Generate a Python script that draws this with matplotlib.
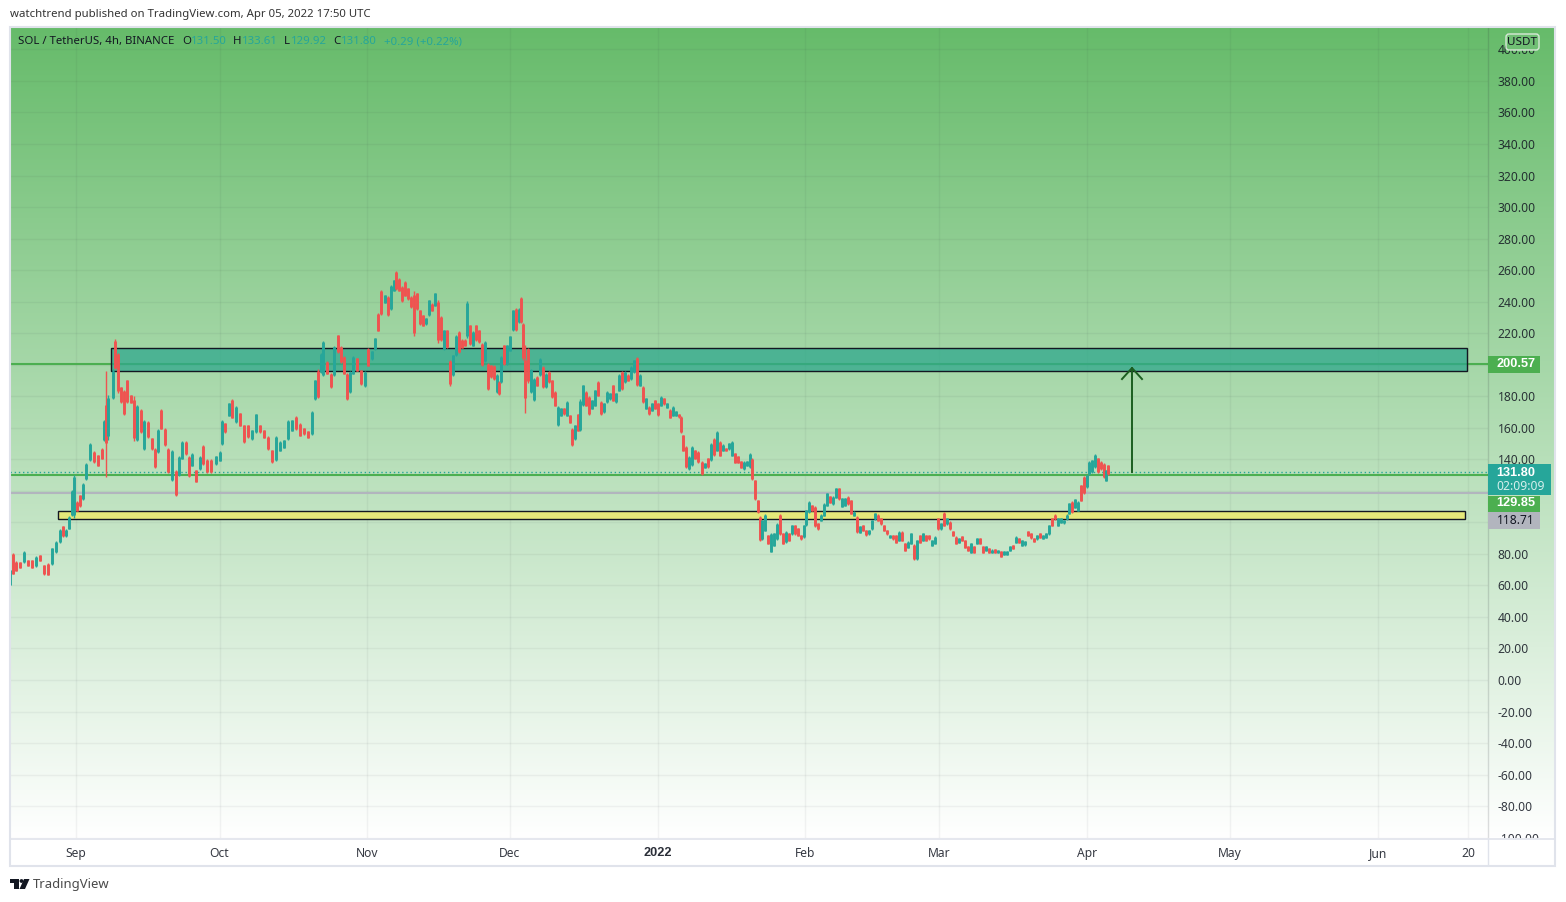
import numpy as np
import matplotlib
matplotlib.use("Agg")
import matplotlib.pyplot as plt
from matplotlib.patches import Rectangle, Polygon, Circle, FancyBboxPatch

plt.rcParams['font.family'] = ['Noto Sans', 'DejaVu Sans']

W, H = 1566, 902
# time axis unit: one step = 1/4.77 of a day, counted from the left chart edge
month_t = [66, 209.5, 357, 500, 648, 795, 929, 1077, 1220, 1368, 1458]
month_labels = ['Sep', 'Oct', 'Nov', 'Dec', '2022', 'Feb', 'Mar', 'Apr', 'May', 'Jun', '20']
price_ticks = list(range(-100, 401, 20))
hidden_tick_labels = [100, 120, 200]

bar_t = [
    0, 3, 6, 10, 14, 18, 22, 26, 30, 34,
    38, 42, 46, 50, 53, 56, 59, 62, 64, 67,
    70, 73, 76, 80, 84, 88, 92, 94, 96, 98,
    103, 105, 108, 111, 114, 117, 121, 124, 127, 131,
    134, 138, 142, 145, 148, 151, 155, 158, 162, 166,
    169, 172, 176, 179, 182, 186, 190, 193, 197, 201,
    206, 210, 212, 215, 219, 222, 226, 230, 234, 238,
    242, 246, 250, 254, 258, 262, 266, 270, 274, 278,
    282, 286, 290, 294, 298, 302, 305, 308, 311, 313,
    317, 321, 324, 328, 331, 334, 337, 340, 343, 347,
    351, 355, 358, 362, 365, 368, 371, 375, 378, 381,
    384, 386, 389, 392, 395, 398, 401, 404, 407, 410,
    413, 416, 419, 422, 425, 428, 431, 434, 437, 440,
    443, 446, 449, 452, 455, 457, 460, 463, 466, 469,
    472, 475, 478, 481, 484, 487, 489, 491, 494, 497,
    500, 503, 506, 509, 511, 513, 515, 518, 521, 524,
    527, 530, 533, 536, 539, 542, 545, 548, 551, 554,
    557, 560, 562, 565, 568, 570, 573, 576, 579, 582,
    585, 588, 591, 594, 597, 600, 603, 606, 609, 612,
    615, 618, 621, 624, 627, 630, 633, 636, 639, 642,
    645, 648, 651, 654, 657, 660, 663, 666, 669, 671,
    673, 676, 679, 682, 685, 688, 692, 695, 698, 701,
    704, 707, 710, 713, 716, 719, 722, 725, 728, 731,
    734, 737, 740, 742, 745, 748, 750, 752, 755, 758,
    761, 764, 767, 770, 773, 776, 779, 782, 785, 788,
    791, 794, 796, 799, 802, 805, 808, 811, 814, 817,
    820, 823, 826, 829, 832, 835, 838, 841, 844, 847,
    850, 853, 856, 859, 862, 865, 868, 871, 874, 877,
    880, 883, 886, 889, 892, 895, 898, 901, 904, 907,
    910, 913, 916, 919, 922, 925, 928, 931, 934, 937,
    940, 943, 946, 949, 952, 955, 958, 961, 964, 967,
    970, 973, 976, 979, 982, 985, 988, 991, 994, 997,
    1000, 1003, 1006, 1009, 1012, 1015, 1018, 1021, 1024, 1027,
    1030, 1033, 1036, 1039, 1042, 1045, 1048, 1051, 1054, 1057,
    1059, 1062, 1065, 1068, 1071, 1074, 1077, 1079, 1082, 1085,
    1088, 1091, 1094, 1096, 1098,
]
highs = [
    70, 80.7, 75.4, 75, 81.7, 76.4, 76.4, 78.5, 79.6, 73,
    74, 84, 88, 95.5, 98, 95.5, 104, 120.8, 130, 113.4,
    117.6, 125, 137.7, 150.4, 145, 143, 147, 165, 196, 181,
    197, 216, 207.5, 186, 184, 190.6, 181, 180, 174.7, 171.6,
    165, 164, 153.6, 147, 159, 171.6, 160, 147, 146, 133.5,
    142, 151.5, 151.5, 142, 144, 133.5, 142, 149, 140, 140,
    142, 145, 165, 163, 175.8, 178, 173.7, 169.5, 162, 162,
    158.9, 169, 162, 158.9, 154.7, 146, 154.7, 151.5, 152.5, 165,
    165, 167.3, 163, 160, 158, 170.5, 190.6, 197, 207.5, 215.3,
    202.2, 194.8, 211.7, 219, 211.7, 205.4, 194.8, 195.9, 205.4, 204.3,
    196.9, 195.9, 210.7, 208.6, 217, 232.9, 247.7, 244.5, 243.4, 250.8,
    254, 259.3, 255, 249.8, 253, 248.7, 243.4, 246.6, 245.6, 235,
    231.8, 229.7, 241.3, 239, 245.6, 241.3, 230.8, 222.3, 222.3, 203.3,
    206.4, 219, 221.2, 216, 216, 240.3, 225.5, 221.2, 225.5, 222.3,
    213.8, 215, 201, 200, 199.5, 193.8, 189.5, 205.4, 212.8, 212.8,
    218.5, 235, 236, 236, 243, 226.5, 212.8, 210.7, 197, 191.7,
    192.7, 204.3, 199, 194.8, 195.9, 190.6, 183.2, 173.7, 172.6, 172.6,
    176.8, 168.4, 160, 162, 169, 178, 187.4, 183.2, 180, 177.9,
    184.2, 189.5, 176.8, 175.8, 183.2, 182, 187.4, 182, 193.8, 195.9,
    195.9, 193.8, 199, 203.3, 205, 193.8, 186.4, 179, 173.7, 175.8,
    177.9, 175.8, 180, 179, 175.8, 171.6, 173.7, 170.5, 169, 167.3,
    155.7, 148.3, 142, 148.3, 146, 145, 138.8, 137.7, 140.9, 150.4,
    153.6, 157.8, 151.5, 149.4, 147.3, 150.4, 151.5, 144, 142, 138.8,
    138.8, 138.8, 144, 140.9, 127.1, 114.5, 103.9, 101.8, 105, 92.3,
    93.3, 93.3, 99.7, 105, 93.3, 94.4, 93.3, 98.6, 98.6, 96.5,
    92.3, 98.6, 108.1, 113.4, 111.3, 110.2, 99.7, 105, 112.3, 118.7,
    116.6, 116.6, 121.9, 121.9, 115.5, 115.5, 116.6, 114.5, 107, 103.9,
    97.6, 98.6, 95.4, 95.4, 101.8, 106, 105, 102.8, 98.6, 95.4,
    92.3, 92.3, 92.3, 94.4, 94.4, 87, 88, 93.3, 86, 89.1,
    92.3, 93.3, 92.3, 92.3, 89.1, 91.2, 102.8, 99.7, 106.4, 102.8,
    100.7, 94.4, 91.2, 90.2, 91.2, 89.1, 84.9, 87, 84.9, 90.2,
    90.2, 84.9, 84.9, 83.8, 82.8, 83.2, 82.3, 81.7, 81.7, 81.7,
    85.3, 85.9, 91.2, 90.2, 89.1, 88, 94.4, 93.3, 90.2, 92.3,
    93.3, 92.3, 93.3, 98.6, 102.8, 105, 102.8, 102.8, 101.8, 105,
    112.3, 113.4, 114.9, 113.4, 124, 129.3, 130.3, 138.8, 139.8, 143.4,
    140.9, 138.8, 137.7, 133.5, 136.7,
]
lows = [
    60, 67, 69, 71, 74.3, 72.2, 71, 72, 75.4, 66.9,
    66.3, 73, 80.7, 87, 91, 91, 95.5, 104, 103, 107,
    110, 114.5, 127, 138.8, 137.7, 135.6, 140, 151.5, 129, 152.5,
    178, 197, 182, 175.8, 168, 175.8, 175.8, 151.5, 151.5, 156.8,
    146, 153.6, 146, 134.6, 144, 159, 148.3, 131.4, 126, 116.6,
    129.3, 140, 143, 129, 135.6, 125.5, 133.5, 136.7, 131.4, 131.4,
    136.7, 138.8, 149, 156.8, 167.3, 166, 163, 161, 150.4, 153.6,
    152.5, 156.8, 156.8, 153.6, 146, 137.7, 138.8, 145, 147, 152.5,
    157.8, 158.9, 154.7, 155.7, 153.6, 155.7, 177.9, 179, 194.8, 192.7,
    193.8, 185.3, 192.7, 207.5, 201, 193.8, 177.5, 182, 193.8, 195.9,
    187.4, 186, 199, 203.3, 209.6, 221.2, 231.8, 239.2, 230.8, 235,
    246.6, 247.7, 246.6, 240, 243.4, 241.3, 236, 218, 235, 225.5,
    224.4, 225.5, 230.8, 234, 237, 214, 215, 209.6, 210.7, 186.8,
    192.7, 205.4, 207.5, 210.7, 211.7, 217, 212.8, 211.7, 215, 213.8,
    199, 202, 183.8, 191.7, 190.6, 182, 181, 188.5, 200, 200,
    208.6, 221.2, 221.2, 226.5, 226.5, 203.3, 169.5, 188.5, 182, 176.8,
    186.4, 192.7, 185.3, 185.3, 188.5, 179, 173.7, 161.4, 167.3, 168.4,
    167.3, 163, 148.3, 152.5, 157.8, 157.8, 173.7, 173.7, 168.4, 171.6,
    173.7, 180, 168.4, 169.5, 175.8, 177.9, 176.8, 175.8, 183.2, 184.2,
    188.5, 189.5, 190.6, 194.8, 186.4, 186.4, 175.8, 171.6, 168.4, 170.5,
    171.6, 167.7, 173.7, 174.7, 172.6, 166.3, 167.3, 167.3, 166.5, 156.8,
    145, 134.6, 133.5, 135.6, 139.9, 137.7, 130.3, 134.6, 134.6, 138.8,
    142, 145, 142, 145, 145, 146.2, 142, 137.7, 137.7, 134.5,
    133.5, 135.6, 134.5, 127.1, 114.5, 106, 88, 89, 94.4, 86,
    81, 84.9, 89, 92.3, 86, 87, 88, 92.3, 92.3, 91.2,
    89.1, 90.2, 97.6, 106, 107, 97.1, 95.4, 100.7, 103.9, 110.2,
    112.3, 111.3, 115.5, 114.5, 109.8, 110.2, 111.3, 105, 103.9, 93.3,
    93.3, 94.4, 91.6, 92.3, 95.4, 101.8, 100.7, 98.6, 94.4, 92.3,
    90.2, 89.1, 86.6, 88, 88, 81.7, 83.8, 86, 76.4, 76.4,
    87, 88, 88, 89.1, 84.9, 86, 95.4, 95.4, 97.6, 98.6,
    95.4, 91.2, 86, 87, 88, 83.8, 81.7, 80.6, 80.6, 86,
    86, 80.6, 81.7, 80.6, 80.6, 80.6, 80.6, 78.1, 79, 79,
    81.7, 82.8, 86.6, 87, 84.9, 85.3, 91.2, 89.7, 87.4, 89.1,
    90.2, 89.5, 90.2, 92.3, 97.6, 101.8, 97.6, 99.7, 99.2, 101.8,
    105, 106, 109.2, 107, 113.4, 118.3, 121.9, 130.3, 131.4, 134.5,
    131.4, 133.5, 128.2, 126, 130.3,
]
directions = (
    "trrrtrrtrr" "rtttrttttr" "rtttrrrtrt" "trrrrrrrtr" "trrrtrrrtr"
    "ttrrtrtrrr" "tttrtrtrrr" "ttrrrrtttt" "trrrrttrtt" "rrtrrrrttr"
    "rtrttrrtrt" "trrrrrrrrr" "rttrtrrtrr" "ttrrrtrtrr" "rtrrrtrtrt"
    "ttrtrrrrtt" "rtrtrrrttr" "trrtrttrrt" "trrtttrttr" "trttrtrtrt"
    "rrtrtrttrr" "rrttrrrtrt" "rtrtrttrrr" "tttrrrrttr" "tttrrtrtrr"
    "rtttrrrttt" "rttrttrrtr" "trrtttrrrr" "trrtrrttrt" "rtrrttrtrt"
    "rrrtrrrtrt" "rrtrtrtrtt" "trtrttrrrt" "rtttrrtttt" "trttrrtttt"
    "rrrtr"
)

last_close = 131.80
line_prices = [200.57, 129.85, 118.71]
zone_top, zone_bottom = 210.6, 195.7
band_top, band_bottom = 107.5, 102.4
arrow_from, arrow_to = 131.8, 197.9

TEAL, RED, GREEN, GRAY = '#26a69a', '#ef5350', '#4caf50', '#b2b5be'
INK = '#131722'
BOLD = ['Liberation Sans', 'DejaVu Sans']

fig = plt.figure(figsize=(W / 100, H / 100), dpi=100, facecolor='white')

def box(l, t, r, b):
    return [l / W, 1 - b / H, (r - l) / W, (b - t) / H]

# gradient pane, behind the chart and the price scale
ax_bg = fig.add_axes(box(10, 27, 1555, 838), zorder=0)
top_c = np.array([102, 187, 106]) / 255
bot_c = np.array([255, 255, 255]) / 255
frac = np.linspace(0, 1, 811)[:, None, None]
ax_bg.imshow(top_c[None, None, :] * (1 - frac) + bot_c[None, None, :] * frac, aspect='auto')
ax_bg.axis('off')

ax = fig.add_axes(box(10, 27, 1488, 838), zorder=1)
ax.patch.set_alpha(0)
ax.set_xlim(0, 1478)
ax.set_ylim(-100.2, 414.2)
ax.yaxis.tick_right()
ax.set_yticks(price_ticks)
ax.set_yticklabels(['' if v in hidden_tick_labels else f'{v:.2f}' for v in price_ticks],
                   fontsize=8.7, color=INK, alpha=0.85)
ax.set_xticks(month_t)
ax.set_xticklabels([])
ax.tick_params(length=0, pad=7)
ax.grid(True, color=(0.16, 0.18, 0.22), alpha=0.055, lw=1)
ax.set_axisbelow(True)
for s in ['top', 'left', 'bottom']:
    ax.spines[s].set_visible(False)
ax.spines['right'].set_color((0.16, 0.18, 0.22, 0.16))
ax.spines['right'].set_linewidth(1)

xr = ax.get_xlim()
ax.hlines(line_prices[0], *xr, color=GREEN, lw=1.5, zorder=2)
ax.hlines(line_prices[1], *xr, color=GREEN, lw=1.5, zorder=2)
ax.hlines(line_prices[2], *xr, color=GRAY, lw=1.5, zorder=2)
ax.hlines(last_close, *xr, color=TEAL, lw=1, linestyles=(0, (1, 2)), zorder=2)

ax.add_patch(Rectangle((101, zone_bottom), 1356, zone_top - zone_bottom, fc='#2fa88d', alpha=0.75,
                       ec='none', zorder=3))
ax.add_patch(Rectangle((101, zone_bottom), 1356, zone_top - zone_bottom, fc='none', ec='#131722',
                       lw=1, zorder=3.1))
ax.add_patch(Rectangle((47.5, band_bottom), 1407.5, band_top - band_bottom, fc='#e5e87a',
                       ec='#131722', lw=1, zorder=3))

t = np.array(bar_t, float)
hi = np.array(highs, float)
lo = np.array(lows, float)
cols = [TEAL if d == 't' else RED for d in directions]
n = min(len(t), len(hi), len(lo), len(cols))
t, hi, lo, cols = t[:n], hi[:n], lo[:n], cols[:n]
rng = hi - lo
mid = (hi + lo) / 2
half = np.minimum(rng * 0.46, 12)
ax.vlines(t, lo, hi, colors=cols, lw=1.0, zorder=4)
ax.vlines(t, mid - half, mid + half, colors=cols, lw=2.1, zorder=4.1)

# arrow
ax.plot([1122, 1122], [arrow_from, arrow_to], color='#1b5e20', lw=1.4, zorder=5)
ax.plot([1112, 1122, 1132], [arrow_to - 7, arrow_to, arrow_to - 7], color='#1b5e20', lw=1.4, zorder=5)

# bottom strip
ax_b = fig.add_axes(box(10, 838, 1555, 866), zorder=2)
ax_b.set_xlim(10, 1555)
ax_b.set_ylim(866, 838)
ax_b.set_xticks([])
ax_b.set_yticks([])
for s in ax_b.spines.values():
    s.set_visible(False)
ax_b.axhline(838.5, color='#e0e3eb', lw=1.2)
ax_b.vlines(1488, 838, 866, color='#e0e3eb', lw=1)
for mt, lab in zip(month_t, month_labels):
    if lab == '2022':
        ax_b.text(mt + 10, 853.5, lab, ha='center', va='center', fontsize=9.2, color=INK, alpha=0.9,
                  family=BOLD, fontweight='bold')
    else:
        ax_b.text(mt + 10, 853.5, lab, ha='center', va='center', fontsize=8.7, color=INK, alpha=0.85)

# overlay for tags, text and frame, in figure pixels
ov = fig.add_axes([0, 0, 1, 1], zorder=3)
ov.set_xlim(0, W)
ov.set_ylim(H, 0)
ov.axis('off')
ov.patch.set_alpha(0)

ov.add_patch(Rectangle((10, 27), 1545, 839, fc='none', ec='#e0e3eb', lw=1.5))

def tag(y0, y1, r, fc, txt, col, bold=True):
    ov.add_patch(Rectangle((1488, y0), r - 1488, y1 - y0, fc=fc, ec='none'))
    if bold:
        ov.text(1516, (y0 + y1) / 2 - 0.3, txt, ha='center', va='center', fontsize=9.2, color=col,
                family=BOLD, fontweight='bold')
    else:
        ov.text(1516, (y0 + y1) / 2 - 0.3, txt, ha='center', va='center', fontsize=8.7, color=col)

tag(356, 372.5, 1540, GREEN, f'{line_prices[0]:.2f}', 'white')
ov.add_patch(Rectangle((1488, 464), 63, 31, fc=TEAL, ec='none'))
ov.text(1516, 473, f'{last_close:.2f}', ha='center', va='center', fontsize=9.2, color='white',
        family=BOLD, fontweight='bold')
ov.text(1521, 487, '02:09:09', ha='center', va='center', fontsize=8.7, color='#d4efec')
tag(495.5, 512, 1540, GREEN, f'{line_prices[1]:.2f}', 'white')
tag(512, 529, 1540, GRAY, f'{line_prices[2]:.2f}', INK, False)

ov.add_patch(FancyBboxPatch((1506, 34), 33, 16, boxstyle='round,pad=0,rounding_size=3',
                            fc='#70bf74', ec='#d8e8d8', lw=1))
ov.text(1522.5, 42.5, 'USDT', ha='center', va='center', fontsize=8.4, color=INK)

ov.text(10, 15, 'watchtrend published on TradingView.com, Apr 05, 2022 17:50 UTC', fontsize=8.2,
        color='#333333', va='center')
ov.text(18, 41.5, 'SOL / TetherUS, 4h, BINANCE', fontsize=8.2, color=INK, va='center')
for x_, s_, c_ in [(182, 'O', INK), (191, '131.50', TEAL), (233, 'H', INK), (242, '133.61', TEAL),
                   (284, 'L', INK), (291, '129.92', TEAL), (333, 'C', INK), (341, '131.80', TEAL),
                   (384, '+0.29 (+0.22%)', TEAL)]:
    ov.text(x_, 41.5, s_, fontsize=8.2, color=c_, va='center')

# footer logo and name
ov.add_patch(Polygon([(10, 879), (19, 879), (19, 889), (14, 889), (14, 883), (10, 883)], fc='#131722', ec='none'))
ov.add_patch(Circle((21.5, 881), 1.9, fc='#131722', ec='none'))
ov.add_patch(Polygon([(24, 879), (29.5, 879), (25, 889), (19.5, 889)], fc='#131722', ec='none'))
ov.text(33, 884.5, 'TradingView', fontsize=9.4, color='#4a4a4a', va='center')

fig.savefig('out.png', dpi=100)
